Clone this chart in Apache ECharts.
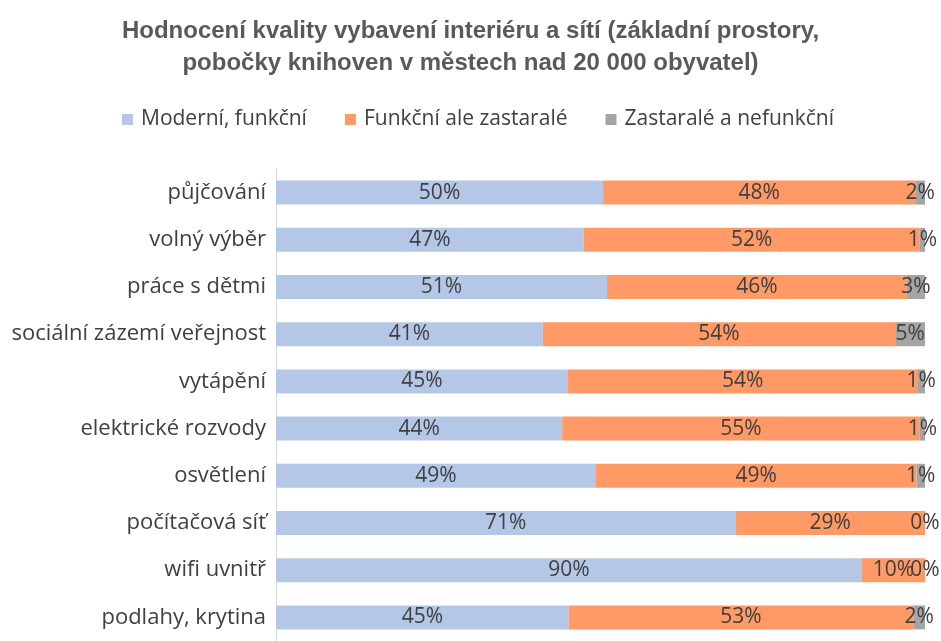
<!DOCTYPE html>
<html>
<head>
<meta charset="utf-8">
<script src="https://cdn.jsdelivr.net/npm/echarts@6/dist/echarts.min.js"></script>
<style>
html, body { margin: 0; padding: 0; background: #fff; }
#chart { width: 941px; height: 641px; }
</style>
</head>
<body>
<div id="chart"></div>
<script>
var categories = ['půjčování', 'volný výběr', 'práce s dětmi', 'sociální zázemí veřejnost', 'vytápění',
    'elektrické rozvody', 'osvětlení', 'počítačová síť', 'wifi uvnitř', 'podlahy, krytina'];
var seriesNames = ['Moderní, funkční', 'Funkční ale zastaralé', 'Zastaralé a nefunkční'];
var modern = [50.4, 47.4, 51.0, 41.1, 45.0, 44.1, 49.3, 70.8, 90.3, 45.1];
var outdated = [48.1, 51.8, 46.2, 54.3, 53.8, 55.1, 49.4, 29.2, 9.7, 53.1];
var broken = [1.5, 0.8, 2.8, 4.6, 1.2, 0.8, 1.3, 0, 0, 1.8];
var colors = ['#b4c7e7', '#ff9966', '#a5a5a5'];

var chart = echarts.init(document.getElementById('chart'));

function makeSeries(name, data, color) {
    return {
        name: name,
        type: 'bar',
        stack: 'total',
        barWidth: 24,
        data: data,
        itemStyle: { color: color },
        label: {
            show: true,
            position: 'inside',
            color: '#404040',
            fontSize: 21,
            fontFamily: 'Open Sans',
            formatter: function (p) {
                return Math.round(p.value) + '%';
            }
        }
    };
}

var option = {
    animation: false,
    textStyle: { fontFamily: 'Open Sans' },
    title: {
        text: 'Hodnocení kvality vybavení interiéru a sítí (základní prostory,\npobočky knihoven v městech nad 20 000 obyvatel)',
        left: 'center',
        top: 10,
        textStyle: {
            fontFamily: 'Liberation Sans',
            fontWeight: 'bold',
            fontSize: 24,
            lineHeight: 32,
            color: '#595959'
        }
    },
    legend: {
        top: 104,
        left: 117,
        itemWidth: 11,
        itemHeight: 11,
        itemGap: 38,
        icon: 'rect',
        textStyle: { fontSize: 21, color: '#404040', fontFamily: 'Open Sans', padding: [0, 0, 0, 3] },
        data: seriesNames
    },
    grid: { left: 276, right: 16, top: 169, bottom: -7 },
    xAxis: {
        type: 'value',
        min: 0,
        max: 100,
        show: false,
        splitLine: { show: false }
    },
    yAxis: {
        type: 'category',
        inverse: true,
        data: categories,
        axisLine: { lineStyle: { color: '#d9d9d9' } },
        axisTick: { show: false },
        axisLabel: { fontSize: 22, color: '#404040', margin: 10, fontFamily: 'Open Sans' }
    },
    series: [
        makeSeries(seriesNames[0], modern, colors[0]),
        makeSeries(seriesNames[1], outdated, colors[1]),
        makeSeries(seriesNames[2], broken, colors[2])
    ]
};
chart.setOption(option);
</script>
</body>
</html>
